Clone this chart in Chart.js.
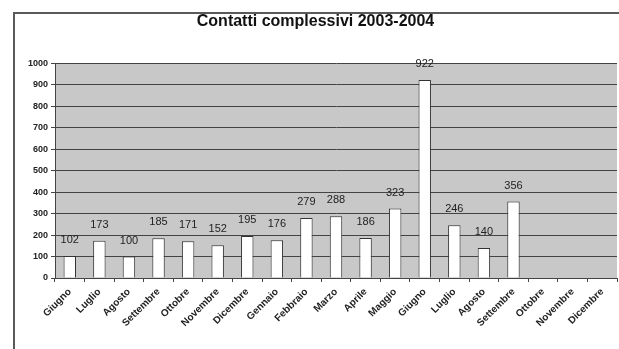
<!DOCTYPE html>
<html>
<head>
<meta charset="utf-8">
<script src="https://cdn.jsdelivr.net/npm/chart.js@4"></script>
<style>
  html, body { margin: 0; padding: 0; background: #fff; }
  #wrap { width: 619px; height: 349px; position: relative; }
</style>
</head>
<body>
<div id="wrap"><canvas id="chart" width="619" height="349"></canvas></div>
<script>
const chartTitle = "Contatti complessivi 2003-2004";
const months = [
  "Giugno", "Luglio", "Agosto", "Settembre", "Ottobre", "Novembre", "Dicembre",
  "Gennaio", "Febbraio", "Marzo", "Aprile", "Maggio", "Giugno", "Luglio",
  "Agosto", "Settembre", "Ottobre", "Novembre", "Dicembre"
];
const contatti = [102, 173, 100, 185, 171, 152, 195, 176, 279, 288, 186, 323, 922, 246, 140, 356, null, null, null];
const yTicks = [0, 100, 200, 300, 400, 500, 600, 700, 800, 900, 1000];

// gray plot area + outer frame
const frame = {
  id: "frame",
  beforeDraw(chart) {
    const { ctx, chartArea: a } = chart;
    ctx.save();
    ctx.fillStyle = "#c8c8c8";
    ctx.fillRect(a.left, a.top, a.right - a.left, a.bottom - a.top);
    ctx.strokeStyle = "#5a5a5a";
    ctx.lineWidth = 2;
    ctx.beginPath();
    ctx.moveTo(14, 349);
    ctx.lineTo(14, 13);
    ctx.lineTo(619, 13);
    ctx.stroke();
    ctx.restore();
  }
};

// value labels above the bars
const valueLabels = {
  id: "valueLabels",
  afterDatasetsDraw(chart) {
    const { ctx } = chart;
    const meta = chart.getDatasetMeta(0);
    ctx.save();
    ctx.font = "11px Arial, 'Liberation Sans', sans-serif";
    ctx.fillStyle = "#222";
    ctx.textAlign = "center";
    ctx.textBaseline = "middle";
    meta.data.forEach((bar, i) => {
      const v = contatti[i];
      if (v == null) return;
      ctx.fillText(String(v), bar.x, bar.y - 16);
    });
    ctx.restore();
  }
};

new Chart(document.getElementById("chart"), {
  type: "bar",
  data: {
    labels: months,
    datasets: [{
      data: contatti,
      backgroundColor: "#ffffff",
      borderColor: "#333333",
      borderWidth: 1,
      barPercentage: 0.42,
      categoryPercentage: 1
    }]
  },
  options: {
    responsive: false,
    animation: false,
    layout: { padding: { left: 14, right: 2, top: 0, bottom: 0 } },
    plugins: {
      legend: { display: false },
      tooltip: { enabled: false },
      title: {
        display: true,
        text: chartTitle,
        color: "#111",
        font: { family: "Arial, 'Liberation Sans', sans-serif", size: 16, weight: "bold" },
        padding: { top: 12, bottom: 32 }
      }
    },
    scales: {
      x: {
        offset: true,
        grid: { offset: true, drawOnChartArea: false, drawTicks: true, tickLength: 4, color: "#444" },
        border: { color: "#444", width: 1 },
        ticks: {
          autoSkip: false,
          minRotation: 45,
          maxRotation: 45,
          padding: 4,
          color: "#222",
          font: { family: "Arial, 'Liberation Sans', sans-serif", size: 10, weight: "bold" }
        },
        afterFit(s) { s.height = 71; }
      },
      y: {
        min: 0,
        max: 1000,
        afterBuildTicks(s) { s.ticks = yTicks.map(v => ({ value: v })); },
        grid: { color: "#444", tickLength: 4, lineWidth: 1 },
        border: { color: "#444", width: 1 },
        ticks: {
          padding: 3,
          color: "#222",
          callback: (v) => String(v),
          font: { family: "Arial, 'Liberation Sans', sans-serif", size: 9, weight: "bold" }
        },
        afterFit(s) { s.width = 41; }
      }
    }
  },
  plugins: [frame, valueLabels]
});
</script>
</body>
</html>
